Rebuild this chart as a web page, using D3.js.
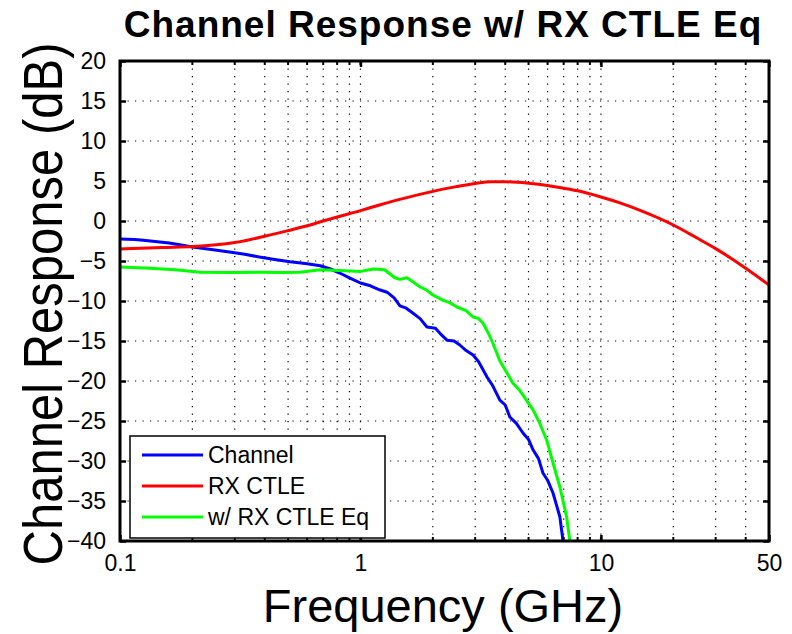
<!DOCTYPE html>
<html>
<head>
<meta charset="utf-8">
<script src="https://cdn.jsdelivr.net/npm/d3@7"></script>
<style>
  html, body { margin: 0; padding: 0; background: #fff; }
  text { font-family: Arial, "Liberation Sans", Helvetica, sans-serif; fill: #000; }
</style>
</head>
<body>
<svg id="chart" width="792" height="634"></svg>
<script>
// Frequency response of the channel, the receive CTLE and their combination
const channelFreq = [0.1, 0.115, 0.125, 0.14, 0.16, 0.18, 0.2, 0.24, 0.29, 0.33, 0.38, 0.44, 0.51, 0.6, 0.68, 0.75, 0.82, 0.9, 1.0, 1.1, 1.2, 1.29, 1.38, 1.46, 1.55, 1.65, 1.77, 1.89, 2.05, 2.15, 2.29, 2.45, 2.59, 2.75, 2.94, 3.1, 3.36, 3.55, 3.8, 4.0, 4.18, 4.45, 4.74, 5.0, 5.22, 5.5, 5.74, 6.0, 6.32, 6.55, 6.75, 6.95, 7.1];
const channelDb   = [-2.25, -2.3, -2.4, -2.55, -2.75, -3.0, -3.25, -3.55, -3.9, -4.15, -4.5, -4.8, -5.1, -5.35, -5.6, -6.0, -6.5, -7.1, -7.75, -8.1, -8.6, -8.9, -9.6, -10.6, -10.9, -11.5, -12.2, -13.25, -13.4, -14.1, -14.9, -15.0, -15.5, -16.2, -16.75, -17.6, -19.5, -20.6, -22.4, -23.0, -24.5, -25.3, -26.5, -27.3, -28.6, -29.7, -31.5, -32.4, -34.0, -35.6, -37.0, -39.9, -42];

const ctleFreq = [0.1, 0.15, 0.2, 0.3, 0.4, 0.5, 0.6, 0.7, 0.8, 1.0, 1.2, 1.5, 2.0, 2.5, 3.0, 3.5, 4.0, 5.0, 6.0, 7.0, 8.0, 10, 12, 15, 20, 25, 30, 40, 50];
const ctleDb   = [-3.5, -3.3, -3.2, -2.7, -1.9, -1.2, -0.6, 0.0, 0.5, 1.3, 2.0, 2.8, 3.7, 4.3, 4.7, 4.9, 4.9, 4.73, 4.45, 4.1, 3.77, 3.0, 2.26, 1.17, -0.5, -2.1, -3.45, -5.9, -8.0];

const eqFreq = [0.1, 0.133, 0.17, 0.215, 0.3, 0.38, 0.47, 0.56, 0.68, 0.82, 1.0, 1.13, 1.26, 1.39, 1.46, 1.56, 1.65, 1.77, 1.88, 2.0, 2.2, 2.35, 2.52, 2.75, 2.94, 3.1, 3.23, 3.4, 3.55, 3.8, 4.05, 4.3, 4.6, 4.9, 5.22, 5.56, 5.95, 6.32, 6.75, 7.2, 7.42, 7.6];
const eqDb   = [-5.75, -5.9, -6.1, -6.4, -6.45, -6.4, -6.45, -6.4, -6.1, -6.2, -6.3, -6.0, -6.1, -7.1, -7.3, -7.1, -7.6, -8.25, -8.6, -9.25, -9.9, -10.2, -10.75, -11.2, -12.0, -12.2, -12.75, -14.0, -15.25, -17.5, -18.9, -20.25, -21.2, -22.4, -23.6, -25.25, -27.4, -30.25, -33.25, -37.0, -39.9, -42];

const xTickValues = [0.1, 1, 10, 50];
const xTickLabels = ["0.1", "1", "10", "50"];
const xGridValues = [0.2, 0.3, 0.4, 0.5, 0.6, 0.7, 0.8, 0.9, 1, 2, 3, 4, 5, 6, 7, 8, 9, 10, 20, 30, 40];
const yTickValues = [20, 15, 10, 5, 0, -5, -10, -15, -20, -25, -30, -35, -40];

const seriesNames  = ["Channel", "RX CTLE", "w/ RX CTLE Eq"];
const seriesColors = ["#0000ff", "#ff0000", "#00ff00"];

const svg = d3.select("#chart");
const plot = { left: 120, right: 769, top: 61, bottom: 541 };

const x = d3.scaleLog().domain([0.1, 50]).range([plot.left, plot.right]);
const y = d3.scaleLinear().domain([-40, 20]).range([plot.bottom, plot.top]);

svg.append("defs").append("clipPath").attr("id", "plotClip")
  .append("rect")
  .attr("x", plot.left).attr("y", plot.top)
  .attr("width", plot.right - plot.left).attr("height", plot.bottom - plot.top);

// dotted grid
const grid = svg.append("g").attr("stroke", "#000").attr("stroke-width", 1.2)
  .attr("stroke-dasharray", "1.2,6.3").attr("fill", "none");
xGridValues.forEach(v => {
  grid.append("line").attr("x1", x(v)).attr("x2", x(v))
    .attr("y1", plot.top).attr("y2", plot.bottom);
});
yTickValues.forEach(v => {
  if (v === 20 || v === -40) return;
  grid.append("line").attr("x1", plot.left).attr("x2", plot.right)
    .attr("y1", y(v)).attr("y2", y(v));
});

// curves: the CTLE is a smooth transfer function, the measured ones stay jagged
const sharpLine = d3.line().x(d => x(d[0])).y(d => y(d[1]));
const smoothLine = d3.line().x(d => x(d[0])).y(d => y(d[1])).curve(d3.curveMonotoneX);
const series = [
  d3.zip(channelFreq, channelDb),
  d3.zip(ctleFreq, ctleDb),
  d3.zip(eqFreq, eqDb)
];
const curves = svg.append("g").attr("clip-path", "url(#plotClip)");
series.forEach((data, i) => {
  curves.append("path").datum(data)
    .attr("d", i === 1 ? smoothLine : sharpLine)
    .attr("fill", "none")
    .attr("stroke", seriesColors[i])
    .attr("stroke-width", 3)
    .attr("stroke-linejoin", "round");
});

// axes with inward ticks on all four sides
const axisBottom = d3.axisBottom(x).tickValues(xTickValues)
  .tickFormat((d, i) => xTickLabels[i]).tickSizeInner(-6).tickSizeOuter(0).tickPadding(14);
const axisTop = d3.axisTop(x).tickValues(xTickValues).tickFormat("").tickSizeInner(-6).tickSizeOuter(0);
const axisLeft = d3.axisLeft(y).tickValues(yTickValues).tickFormat(d3.format("d"))
  .tickSizeInner(-6).tickSizeOuter(0).tickPadding(14);
const axisRight = d3.axisRight(y).tickValues(yTickValues).tickFormat("").tickSizeInner(-6).tickSizeOuter(0);

function styleAxis(g) {
  g.select(".domain").remove();
  g.selectAll(".tick line").attr("stroke", "#000").attr("stroke-width", 2.5);
  g.selectAll(".tick text").attr("font-size", 23).attr("fill", "#000")
    .attr("font-family", "Arial, 'Liberation Sans', sans-serif");
}

svg.append("g").attr("transform", `translate(0,${plot.bottom})`).call(axisBottom).call(styleAxis);
svg.append("g").attr("transform", `translate(0,${plot.top})`).call(axisTop).call(styleAxis);
svg.append("g").attr("transform", `translate(${plot.left},0)`).call(axisLeft).call(styleAxis);
svg.append("g").attr("transform", `translate(${plot.right},0)`).call(axisRight).call(styleAxis);

// minor ticks at the grid positions
const minor = svg.append("g").attr("stroke", "#000").attr("stroke-width", 2);
xGridValues.forEach(v => {
  minor.append("line").attr("x1", x(v)).attr("x2", x(v)).attr("y1", plot.bottom).attr("y2", plot.bottom - 4);
  minor.append("line").attr("x1", x(v)).attr("x2", x(v)).attr("y1", plot.top).attr("y2", plot.top + 4);
});

// frame
svg.append("rect")
  .attr("x", plot.left).attr("y", plot.top)
  .attr("width", plot.right - plot.left).attr("height", plot.bottom - plot.top)
  .attr("fill", "none").attr("stroke", "#000").attr("stroke-width", 3);

// legend
const legend = svg.append("g").attr("transform", "translate(130,436)");
legend.append("rect").attr("width", 255).attr("height", 102)
  .attr("fill", "#fff").attr("stroke", "#000").attr("stroke-width", 1.5);
seriesNames.forEach((name, i) => {
  const ry = 19 + i * 31;
  legend.append("line").attr("x1", 12).attr("x2", 73).attr("y1", ry).attr("y2", ry)
    .attr("stroke", seriesColors[i]).attr("stroke-width", 3);
  legend.append("text").attr("x", 78).attr("y", ry + 8).attr("font-size", 23).text(name);
});

// titles
svg.append("text").attr("x", 443).attr("y", 37).attr("text-anchor", "middle")
  .attr("font-size", 37).attr("font-weight", "bold").attr("letter-spacing", 1)
  .text("Channel Response w/ RX CTLE Eq");
svg.append("text").attr("x", 443).attr("y", 622).attr("text-anchor", "middle")
  .attr("font-size", 47).text("Frequency (GHz)");
svg.append("text").attr("transform", "translate(62,304) rotate(-90) scale(1,1.12)")
  .attr("text-anchor", "middle").attr("font-size", 49).text("Channel Response (dB)");
</script>
</body>
</html>
